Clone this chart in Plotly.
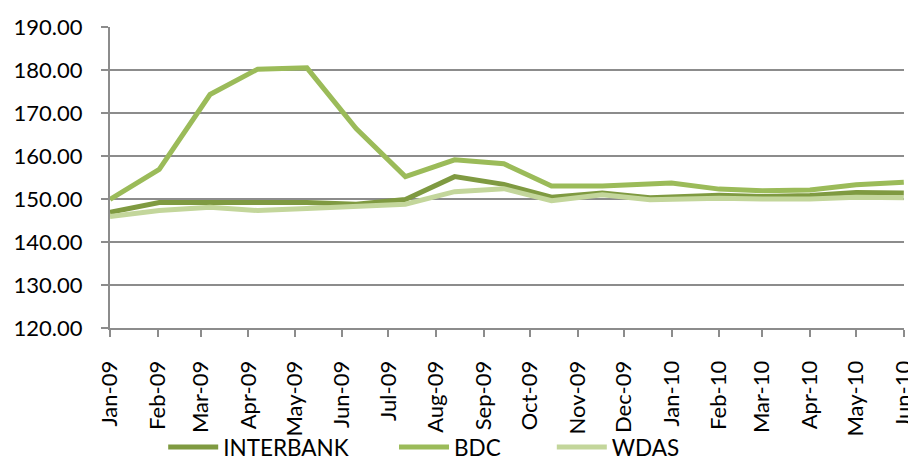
import plotly.graph_objects as go

# observation dates (as plotted on the date axis of the original)
dates = ["2009-01-01", "2009-02-02", "2009-03-07", "2009-04-07", "2009-05-09",
         "2009-06-10", "2009-07-12", "2009-08-13", "2009-09-14", "2009-10-15",
         "2009-11-17", "2009-12-18", "2010-01-01", "2010-02-01", "2010-03-01",
         "2010-04-01", "2010-05-01", "2010-06-01"]

interbank = [146.9, 149.2, 149.2, 149.2, 149.2, 148.8, 149.9, 155.2, 153.4, 150.4,
             151.4, 150.3, 150.4, 150.9, 150.6, 150.8, 151.5, 151.4]
bdc = [149.9, 156.9, 174.3, 180.2, 180.5, 166.4, 155.2, 159.1, 158.2, 153.0,
       153.0, 153.3, 153.7, 152.3, 151.9, 152.1, 153.3, 153.9]
wdas = [145.9, 147.3, 148.1, 147.3, 147.8, 148.4, 148.8, 151.7, 152.4, 149.6,
        151.0, 149.8, 150.0, 150.2, 150.0, 150.0, 150.4, 150.3]

# name, values, colour, trailing nbsp count (spacing between legend entries)
series = [("INTERBANK", interbank, "#7F9A41", 7),
          ("BDC", bdc, "#9BBB59", 8),
          ("WDAS", wdas, "#C3D69B", 0)]

FONT = "Lato"
GRID = "#8C8C8C"

fig = go.Figure()
for name, vals, color, pad in series:
    fig.add_trace(go.Scatter(x=dates, y=vals, name=name + "\u00a0" * pad, mode="lines",
                             line=dict(color=color, width=5)))

# page body has an 8px margin, so the figure is sized to fit the window
fig.update_layout(
    width=908, height=454,
    margin=dict(l=102, r=12, t=19, b=134),
    paper_bgcolor="white", plot_bgcolor="white",
    font=dict(family=FONT, size=22, color="black"),
    showlegend=True,
    legend=dict(orientation="h", x=0.067, xanchor="left",
                yref="container", y=0.032, yanchor="middle",
                bgcolor="rgba(0,0,0,0)", font=dict(size=22.5),
                itemwidth=50, tracegroupgap=0),
)
fig.update_xaxes(
    type="date", range=["2009-01-01", "2010-06-01 03:00"],
    dtick="M1", tick0="2009-01-01", tickformat="%b-%y", tickangle=-90,
    showgrid=False, showline=True, linecolor=GRID, linewidth=2,
    ticks="outside", ticklen=7, tickcolor=GRID, tickwidth=2,
    ticklabelstandoff=15, tickfont=dict(size=22), automargin=False,
)
fig.update_yaxes(
    range=[120, 190], dtick=10, tickformat=".2f",
    showgrid=True, gridcolor=GRID, gridwidth=2,
    showline=True, linecolor=GRID, linewidth=2, zeroline=False,
    ticks="outside", ticklen=7, tickcolor=GRID, tickwidth=2,
    ticklabelstandoff=14, tickfont=dict(size=22), automargin=False,
)

fig.write_html("out.html")
